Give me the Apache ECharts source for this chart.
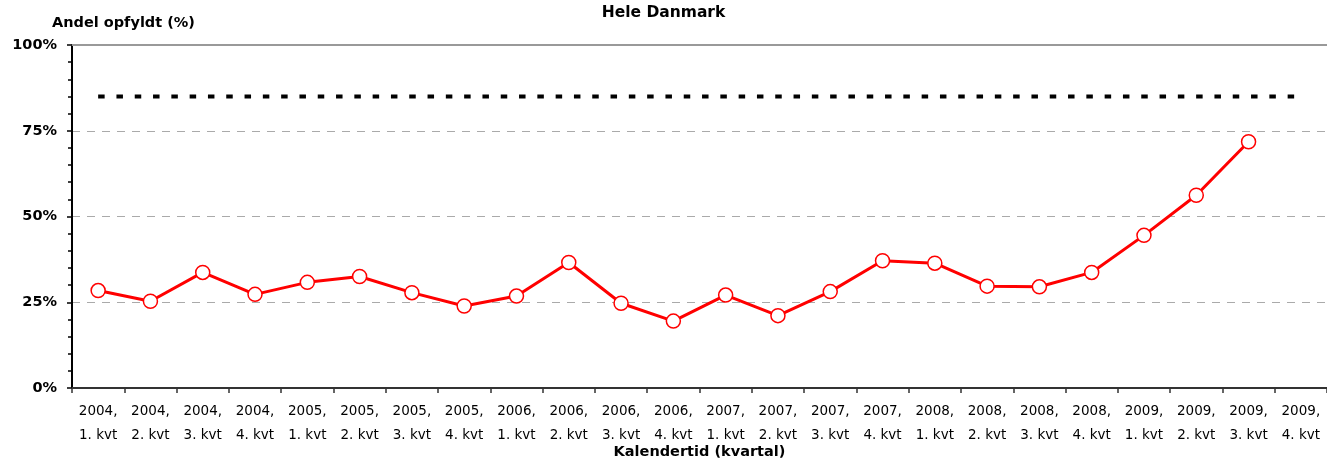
<!DOCTYPE html>
<html>
<head>
<meta charset="utf-8">
<script src="https://cdn.jsdelivr.net/npm/echarts@6/dist/echarts.min.js"></script>
<style>
  html, body { margin: 0; padding: 0; background: #fff; }
  #chart { width: 1327px; height: 459px; }
</style>
</head>
<body>
<div id="chart"></div>
<script>
// kvartaler 2004-2009
var categories = [
  '2004,\n1. kvt', '2004,\n2. kvt', '2004,\n3. kvt', '2004,\n4. kvt',
  '2005,\n1. kvt', '2005,\n2. kvt', '2005,\n3. kvt', '2005,\n4. kvt',
  '2006,\n1. kvt', '2006,\n2. kvt', '2006,\n3. kvt', '2006,\n4. kvt',
  '2007,\n1. kvt', '2007,\n2. kvt', '2007,\n3. kvt', '2007,\n4. kvt',
  '2008,\n1. kvt', '2008,\n2. kvt', '2008,\n3. kvt', '2008,\n4. kvt',
  '2009,\n1. kvt', '2009,\n2. kvt', '2009,\n3. kvt', '2009,\n4. kvt'
];
// andel opfyldt (%)
var andel = [
  28.4, 25.3, 33.7, 27.3,
  30.8, 32.5, 27.8, 23.9,
  26.8, 36.6, 24.7, 19.5,
  27.1, 21.1, 28.1, 37.1,
  36.4, 29.7, 29.5, 33.7,
  44.5, 56.2, 71.8, null
];
// målsætning
var maal = [
  85, 85, 85, 85, 85, 85, 85, 85, 85, 85, 85, 85,
  85, 85, 85, 85, 85, 85, 85, 85, 85, 85, 85, 85
];
var yTicks = [0, 25, 50, 75, 100];

var font = 'DejaVu Sans';

echarts.init(document.getElementById('chart')).setOption({
  backgroundColor: '#fff',
  animation: false,
  textStyle: { fontFamily: font },
  title: {
    text: 'Hele Danmark',
    left: 'center',
    top: 0,
    textStyle: { fontSize: 15.5, fontWeight: 'bold', color: '#000', fontFamily: font }
  },
  grid: { left: 72, right: 0, top: 45, bottom: 71, outerBoundsMode: 'none' },
  xAxis: [{
    type: 'category',
    data: categories,
    boundaryGap: true,
    name: 'Kalendertid (kvartal)',
    nameLocation: 'middle',
    nameGap: 57,
    nameMoveOverlap: false,
    nameTextStyle: { fontSize: 14.5, fontWeight: 'bold', color: '#000', fontFamily: font },
    axisLine: { lineStyle: { color: '#333', width: 2 } },
    axisTick: { show: true, length: 5, lineStyle: { color: '#333', width: 1.5 } },
    axisLabel: { color: '#000', fontSize: 13.5, lineHeight: 24, margin: 11, interval: 0, fontFamily: font },
    splitLine: { show: false }
  }, {
    type: 'category',
    position: 'top',
    data: categories,
    axisLine: { lineStyle: { color: '#999', width: 2 } },
    axisTick: { show: false },
    axisLabel: { show: false }
  }],
  yAxis: {
    type: 'value',
    min: yTicks[0],
    max: yTicks[yTicks.length - 1],
    interval: 25,
    name: 'Andel opfyldt (%)',
    nameLocation: 'end',
    nameGap: 14,
    nameTextStyle: { fontSize: 14.5, fontWeight: 'bold', color: '#000', align: 'left', padding: [0, 0, 0, -20], fontFamily: font },
    axisLine: { show: true, lineStyle: { color: '#000', width: 2 } },
    axisTick: { show: true, length: 5, lineStyle: { color: '#000', width: 1.5 } },
    minorTick: { show: true, splitNumber: 5, length: 4, lineStyle: { color: '#000', width: 1.5 } },
    axisLabel: {
      color: '#000', fontSize: 14.5, fontWeight: 'bold', margin: 15, fontFamily: font,
      formatter: function (v) { return v + '%'; }
    },
    splitLine: { show: true, lineStyle: { color: '#aaa', width: 1, type: [8, 7] } }
  },
  series: [{
    name: 'Mål',
    type: 'line',
    data: maal,
    symbol: 'none',
    silent: true,
    lineStyle: { color: '#000', width: 4, type: [6.5, 11.8], cap: 'butt' },
    z: 2
  }, {
    name: 'Hele Danmark',
    type: 'line',
    data: andel,
    symbol: 'circle',
    symbolSize: 14,
    lineStyle: { color: '#ff0000', width: 3 },
    itemStyle: { color: '#fff', borderColor: '#ff0000', borderWidth: 1.5 },
    z: 3
  }]
});
</script>
</body>
</html>
